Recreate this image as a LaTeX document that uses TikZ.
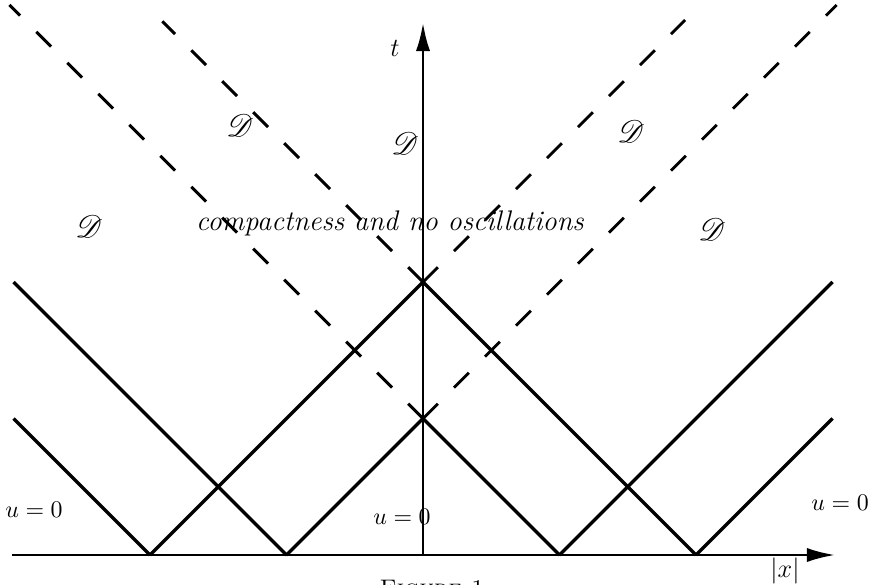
\documentclass[tikz,border=0pt]{standalone}
\usepackage{mathrsfs}
\usetikzlibrary{arrows.meta}

\tikzset{
  axis/.style={line width=1.3pt,-{Latex[length=13pt,width=6.5pt]}},
  ray/.style={line width=1.6pt},
  charac/.style={line width=1.3pt,dash pattern=on 9.6pt off 10.5pt},
  lbl/.style={inner sep=0pt,font=\fontsize{11}{13}\selectfont},
  dom/.style={inner sep=0pt,font=\fontsize{13.5}{15}\selectfont}
}

\begin{document}
\begin{tikzpicture}[x=2.2cm,y=2.2cm]
  \useasboundingbox (-3.099,-0.2125) rectangle (3.282,4.066);

  % axes
  \coordinate (xl) at (-3.01,0);
  \coordinate (xr) at (3.02,0);
  \coordinate (o) at (0,0);
  \coordinate (ty) at (0,3.9);
  \draw[axis] (xl) -- (xr);
  \draw[axis] (o) -- (ty);

  % feet and crossings
  \coordinate (fa) at (-2,0);
  \coordinate (fb) at (-1,0);
  \coordinate (fc) at (1,0);
  \coordinate (fd) at (2,0);
  \coordinate (plo) at (0,1);
  \coordinate (phi) at (0,2);

  % free ends
  \coordinate (la) at (-3,2);
  \coordinate (lb) at (-3,1);
  \coordinate (ra) at (3,2);
  \coordinate (rb) at (3,1);
  \coordinate (dla) at (-3.03,4.03);
  \coordinate (dlb) at (-1.91,3.91);
  \coordinate (dra) at (3.03,4.03);
  \coordinate (drb) at (1.92,3.92);

  % solid lines
  \draw[ray] (fa) -- (phi) -- (fd);
  \draw[ray] (fb) -- (plo) -- (fc);
  \draw[ray] (la) -- (fb);
  \draw[ray] (lb) -- (fa);
  \draw[ray] (fc) -- (ra);
  \draw[ray] (fd) -- (rb);

  % dashed lines
  \draw[charac] (plo) -- (dla);
  \draw[charac] (phi) -- (dlb);
  \draw[charac] (plo) -- (dra);
  \draw[charac] (phi) -- (drb);

  % labels
  \node[lbl,font=\fontsize{12.5}{14}\selectfont] (tlab) at (-0.205,3.714) {$t$};
  \node[lbl,font=\fontsize{12.5}{14}\selectfont] (xlab) at (2.652,-0.117) {$|x|$};
  \node[dom] (da) at (-1.341,3.150) {$\mathscr{D}$};
  \node[dom] (db) at (-0.132,3.018) {$\mathscr{D}$};
  \node[dom] (dc) at (1.524,3.099) {$\mathscr{D}$};
  \node[dom] (dd) at (-2.447,2.403) {$\mathscr{D}$};
  \node[dom] (de) at (2.117,2.381) {$\mathscr{D}$};
  \node[lbl,font=\fontsize{13}{15}\selectfont\itshape] (comp) at (-0.242,2.432)
    {compactness and no oscillations};
  \node[lbl] (ua) at (-2.850,0.330) {$u=0$};
  \node[lbl] (ub) at (-0.154,0.278) {$u=0$};
  \node[lbl] (uc) at (3.055,0.381) {$u=0$};
  \node[lbl,anchor=north] (cap) at (0.066,-0.18)
    {\textsc{Figure 1}};
\end{tikzpicture}
\end{document}
